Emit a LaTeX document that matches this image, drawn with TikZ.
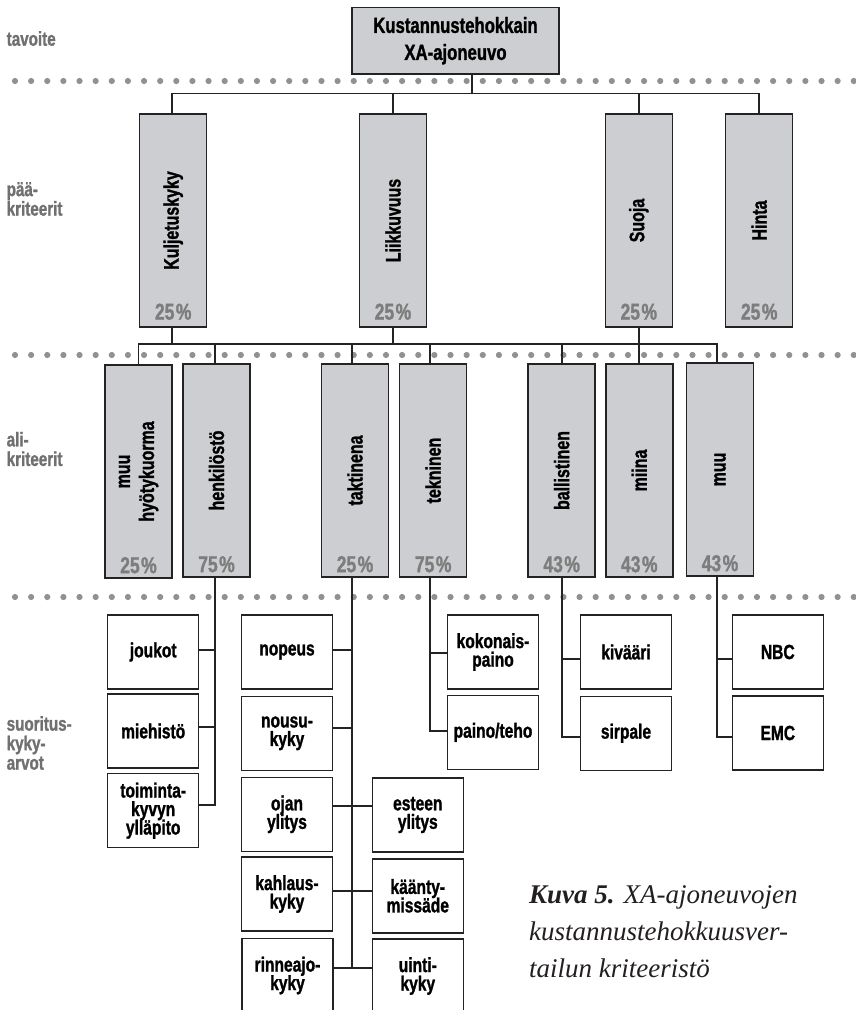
\documentclass[tikz,border=0pt]{standalone}
\usepackage{fontspec}
\setmainfont{Liberation Serif}
\newfontfamily\cond[FakeStretch=0.76,FakeBold=1.2]{Liberation Sans Bold}
\usetikzlibrary{calc}
\definecolor{boxgray}{RGB}{205,206,209}
\definecolor{dotgray}{RGB}{145,145,148}
\definecolor{labgray}{RGB}{112,112,112}
\definecolor{pctgray}{RGB}{125,125,125}
\definecolor{linec}{RGB}{35,35,35}
\definecolor{captc}{RGB}{35,31,32}
\begin{document}
\begin{tikzpicture}[x=1pt,y=-1pt,
  crit/.style={draw=linec, line width=1.5pt, fill=boxgray, minimum width=67pt, minimum height=213pt, inner sep=0pt},
  topbox/.style={draw=linec, line width=1.5pt, fill=boxgray, minimum width=207pt, minimum height=66.7pt, inner sep=0pt, align=center, font={\cond\fontsize{22}{27}\selectfont\lineskiplimit=-50pt}},
  leaf/.style={draw=linec, line width=1.5pt, fill=white, minimum width=91pt, minimum height=74pt, inner sep=0pt, align=center, font={\cond\fontsize{20.5}{18.5}\selectfont\lineskiplimit=-50pt}},
  crittext/.style={rotate=90, inner sep=0pt, align=center, font={\cond\fontsize{21}{24}\selectfont\lineskiplimit=-50pt}},
  pct/.style={inner sep=0pt, text=pctgray, font={\cond\fontsize{23}{23}\selectfont}},
  lev/.style={inner sep=0pt, align=left, text=labgray, font={\cond\fontsize{20}{19.5}\selectfont\lineskiplimit=-50pt}},
  conn/.style={draw=linec, line width=1.7pt},
]
\useasboundingbox (0,0) rectangle (856,1010);

% dotted level separators
\foreach \yy in {81,355,597} {
  \foreach \k in {0,...,52} {
    \fill[dotgray] ({15+16.13*\k},\yy) circle (3.1pt);
  }
}

% level labels
\node[lev, anchor=base west] (l1) at (6.5,45.7) {tavoite};
\node[lev, anchor=west] (l2) at (6.5,199) {pää-\\kriteerit};
\node[lev, anchor=west] (l3) at (6.5,449) {ali-\\kriteerit};
\node[lev, anchor=west] (l4) at (6.5,743) {suoritus-\\kyky-\\arvot};

% goal
\node[topbox] (top) at (455.5,40.7) {Kustannustehokkain\\XA-ajoneuvo};

% main criteria
\node[crit] (kul) at (173.2,220.5) {};
\node[crit] (lii) at (393,220.5) {};
\node[crit] (suo) at (638.8,220.5) {};
\node[crit] (hin) at (759.2,220.5) {};
\node[crittext] (kult) at (kul) {Kuljetuskyky};
\node[crittext] (liit) at (lii) {Liikkuvuus};
\node[crittext] (suot) at (suo) {Suoja};
\node[crittext] (hint) at (hin) {Hinta};
\node[pct] (kulp) at ([yshift=16pt]kul.south) {25\kern1.5pt\%};
\node[pct] (liip) at ([yshift=16pt]lii.south) {25\kern1.5pt\%};
\node[pct] (suop) at ([yshift=16pt]suo.south) {25\kern1.5pt\%};
\node[pct] (hinp) at ([yshift=16pt]hin.south) {25\kern1.5pt\%};

% sub criteria
\node[crit] (muh) at (138.5,471.5) {};
\node[crit] (hen) at (216.5,470.5) {};
\node[crit] (tak) at (355,470.5) {};
\node[crit] (tek) at (433.2,470.5) {};
\node[crit] (bal) at (561.7,470.5) {};
\node[crit] (mii) at (639.3,470.5) {};
\node[crit] (muu) at (720,469.5) {};
\node[crittext] (muht) at (muh) {muu\\hyötykuorma};
\node[crittext] (hent) at (hen) {henkilöstö};
\node[crittext] (takt) at (tak) {taktinena};
\node[crittext] (tekt) at (tek) {tekninen};
\node[crittext] (balt) at (bal) {ballistinen};
\node[crittext] (miit) at (mii) {miina};
\node[crittext] (muut) at (muu) {muu};
\node[pct] (muhp) at ([yshift=13.5pt]muh.south) {25\kern1.5pt\%};
\node[pct] (henp) at ([yshift=13.5pt]hen.south) {75\kern1.5pt\%};
\node[pct] (takp) at ([yshift=13.5pt]tak.south) {25\kern1.5pt\%};
\node[pct] (tekp) at ([yshift=13.5pt]tek.south) {75\kern1.5pt\%};
\node[pct] (balp) at ([yshift=13.5pt]bal.south) {43\kern1.5pt\%};
\node[pct] (miip) at ([yshift=13.5pt]mii.south) {43\kern1.5pt\%};
\node[pct] (muup) at ([yshift=13.5pt]muu.south) {43\kern1.5pt\%};

% performance values
\node[leaf] (jou) at (153.2,652) {joukot};
\node[leaf] (mie) at (153.2,731) {miehistö};
\node[leaf] (toi) at (153.2,810.7) {toiminta-\\kyvyn\\ylläpito};
\node[leaf] (nop) at (287,652) {nopeus};
\node[leaf] (nou) at (287,733.3) {nousu-\\kyky};
\node[leaf] (oja) at (287,814.3) {ojan\\ylitys};
\node[leaf] (kah) at (287,894) {kahlaus-\\kyky};
\node[leaf] (rin) at (287.5,975.5) {rinneajo-\\kyky};
\node[leaf] (est) at (417.8,815) {esteen\\ylitys};
\node[leaf] (kaa) at (417.8,895.8) {käänty-\\missäde};
\node[leaf] (uin) at (417.8,976) {uinti-\\kyky};
\node[leaf] (kok) at (493,652) {kokonais-\\paino};
\node[leaf] (pai) at (493,732.4) {paino/teho};
\node[leaf] (kiv) at (626,652) {kivääri};
\node[leaf] (sir) at (626,733.3) {sirpale};
\node[leaf] (nbc) at (777.8,652) {NBC};
\node[leaf] (emc) at (777.8,733) {EMC};

% caption
\node[anchor=north west, inner sep=0pt, align=left, text=captc,
      font={\itshape\fontsize{27}{37.3}\selectfont}] (cap) at (529,885)
  {{\bfseries Kuva 5.} XA-ajoneuvojen\\kustannustehokkuusver-\\tailun kriteeristö};

% attachment points of the vertical stems
\coordinate (kulS) at ([xshift=-1.2pt]kul.south);
\coordinate (kulN) at ([xshift=-1.2pt]kul.north);
\coordinate (henN) at ([xshift=-1.2pt]hen.north);
\coordinate (henS) at ([xshift=-1.2pt]hen.south);
\coordinate (takN) at ([xshift=-2.7pt]tak.north);
\coordinate (takS) at ([xshift=-2.7pt]tak.south);
\coordinate (tekN) at ([xshift=-3.2pt]tek.north);
\coordinate (tekS) at ([xshift=-3.2pt]tek.south);
\coordinate (muuN) at ([xshift=-3.3pt]muu.north);
\coordinate (muuS) at ([xshift=-3.3pt]muu.south);

% connectors: goal -> main criteria
\coordinate (b1) at (472,93.5);
\draw[conn] (top.south -| b1) -- (b1);
\draw[conn] (kulN) |- (hin.north |- b1) -- (hin.north);
\draw[conn] (lii.north) -- (lii.north |- b1);
\draw[conn] (suo.north) -- (suo.north |- b1);

% main -> sub criteria
\coordinate (b2) at (0,344);
\draw[conn] (muh.north) |- (muuN |- b2) -- (muuN);
\draw[conn] (kulS) -- (kulS |- b2);
\draw[conn] (lii.south) -- (lii.south |- b2);
\draw[conn] (suo.south) -- (suo.south |- b2);
\draw[conn] (henN) -- (henN |- b2);
\draw[conn] (takN) -- (takN |- b2);
\draw[conn] (tekN) -- (tekN |- b2);
\draw[conn] (bal.north) -- (bal.north |- b2);
\draw[conn] (mii.north) -- (mii.north |- b2);

% henkilöstö
\draw[conn] (henS) |- ([yshift=5.7pt]toi.east);
\draw[conn] ([yshift=2pt]jou.east) -| (henS);
\draw[conn] ([yshift=4pt]mie.east) -| (henS);

% taktinen
\coordinate (rinB) at ([yshift=7.5pt]rin.east);
\draw[conn] (takS) -- (takS |- rinB);
\draw[conn] ([yshift=2pt]nop.east) -| (takS);
\draw[conn] ([yshift=5pt]nou.east) -| (takS);
\draw[conn] ([yshift=8.3pt]oja.east) -- ([yshift=8.3pt]oja.east -| est.west);
\draw[conn] ([yshift=3pt]kah.east) -- ([yshift=3pt]kah.east -| kaa.west);
\draw[conn] (rinB) -- (rinB -| uin.west);

% tekninen
\draw[conn] (tekS) |- ([yshift=1.4pt]pai.west);
\draw[conn] ([yshift=-1pt]kok.west) -| (tekS);

% ballistinen
\draw[conn] (bal.south) |- ([yshift=-3.4pt]sir.west);
\draw[conn] ([yshift=-7pt]kiv.west) -| (bal.south);

% muu
\draw[conn] (muuS) |- ([yshift=-4pt]emc.west);
\draw[conn] ([yshift=-7pt]nbc.west) -| (muuS);
\end{tikzpicture}
\end{document}
